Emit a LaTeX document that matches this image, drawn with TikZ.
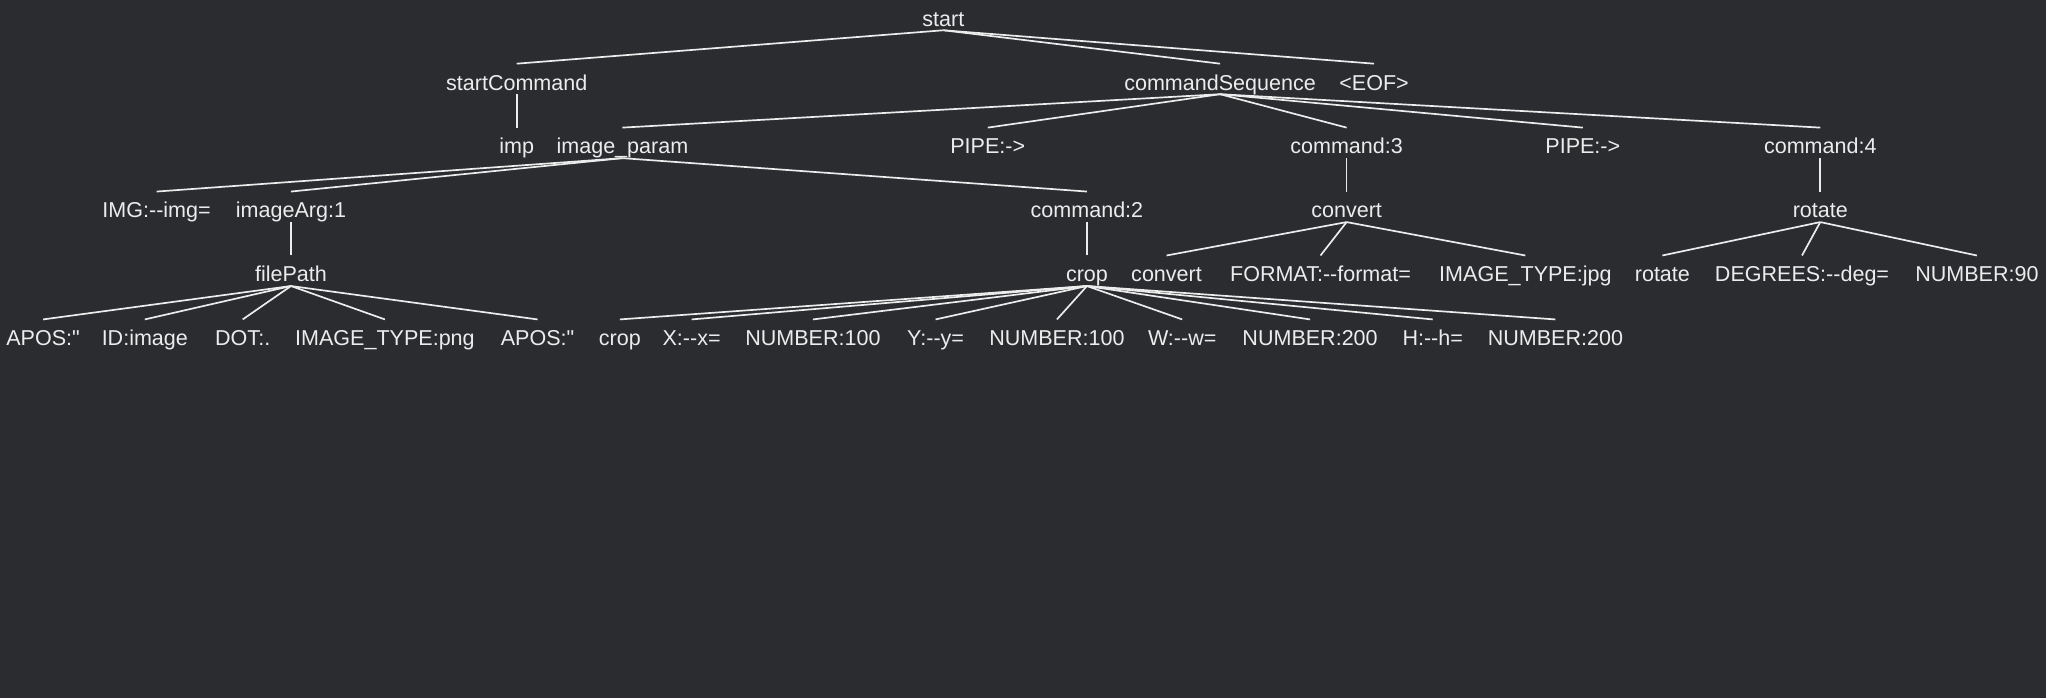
\documentclass[tikz,border=0pt]{standalone}
\usepackage{fontspec}
\setmainfont{Liberation Sans}[Ligatures=TeXOff]
\definecolor{bgdark}{HTML}{2B2C30}
\definecolor{fgline}{HTML}{ECECEC}
\tikzset{
  tok/.style={anchor=base, text=fgline, font=\fontsize{16.5}{20}\selectfont,
    text height=17pt, text depth=0pt, inner xsep=0pt, inner ysep=3pt},
  edge/.style={draw=fgline, line width=1.3pt}
}
\begin{document}
\begin{tikzpicture}[x=1pt,y=-1pt]
  \fill[bgdark] (0,0) rectangle (1568,535);
  % level 1 and 2
  \node[tok] (start) at (723,20) {start};
  \node[tok] (startCmd) at (396,69) {startCommand};
  \node[tok] (cmdSeq) at (935,69) {commandSequence};
  \node[tok] (eof) at (1053,69) {<EOF>};
  % level 3
  \node[tok] (imp) at (396,118) {imp};
  \node[tok] (imgParam) at (477,118) {image\_param};
  \node[tok] (pipeA) at (757,118) {PIPE:->};
  \node[tok] (cmdThree) at (1032,118) {command:3};
  \node[tok] (pipeB) at (1213,118) {PIPE:->};
  \node[tok] (cmdFour) at (1395,118) {command:4};
  % level 4
  \node[tok] (imgTok) at (120,167) {IMG:-{}-img=};
  \node[tok] (imgArg) at (223,167) {imageArg:1};
  \node[tok] (cmdTwo) at (833,167) {command:2};
  \node[tok] (convert) at (1032,167) {convert};
  \node[tok] (rotate) at (1395,167) {rotate};
  % level 5
  \node[tok] (filePath) at (223,216) {filePath};
  \node[tok] (crop) at (833,216) {crop};
  \node[tok] (convTok) at (894,216) {convert};
  \node[tok] (fmtTok) at (1012,216) {FORMAT:-{}-format=};
  \node[tok] (jpgTok) at (1169,216) {IMAGE\_TYPE:jpg};
  \node[tok] (rotTok) at (1274,216) {rotate};
  \node[tok] (degTok) at (1381,216) {DEGREES:-{}-deg=};
  \node[tok] (num90) at (1515,216) {NUMBER:90};
  % level 6
  \node[tok] (aposA) at (33,265) {APOS:"};
  \node[tok] (idTok) at (111,265) {ID:image};
  \node[tok] (dotTok) at (186,265) {DOT:.};
  \node[tok] (pngTok) at (295,265) {IMAGE\_TYPE:png};
  \node[tok] (aposB) at (412,265) {APOS:"};
  \node[tok] (cropTok) at (475,265) {crop};
  \node[tok] (xTok) at (530,265) {X:-{}-x=};
  \node[tok] (numX) at (623,265) {NUMBER:100};
  \node[tok] (yTok) at (717,265) {Y:-{}-y=};
  \node[tok] (numY) at (810,265) {NUMBER:100};
  \node[tok] (wTok) at (906,265) {W:-{}-w=};
  \node[tok] (numW) at (1004,265) {NUMBER:200};
  \node[tok] (hTok) at (1098,265) {H:-{}-h=};
  \node[tok] (numH) at (1192,265) {NUMBER:200};
  % edges
  \foreach \c in {startCmd,cmdSeq,eof} \draw[edge] (start.south) -- (\c.north);
  \draw[edge] (startCmd.south) -- (imp.north);
  \foreach \c in {imgParam,pipeA,cmdThree,pipeB,cmdFour} \draw[edge] (cmdSeq.south) -- (\c.north);
  \foreach \c in {imgTok,imgArg,cmdTwo} \draw[edge] (imgParam.south) -- (\c.north);
  \draw[edge] (imgArg.south) -- (filePath.north);
  \foreach \c in {aposA,idTok,dotTok,pngTok,aposB} \draw[edge] (filePath.south) -- (\c.north);
  \draw[edge] (cmdTwo.south) -- (crop.north);
  \foreach \c in {cropTok,xTok,numX,yTok,numY,wTok,numW,hTok,numH} \draw[edge] (crop.south) -- (\c.north);
  \draw[edge] (cmdThree.south) -- (convert.north);
  \foreach \c in {convTok,fmtTok,jpgTok} \draw[edge] (convert.south) -- (\c.north);
  \draw[edge] (cmdFour.south) -- (rotate.north);
  \foreach \c in {rotTok,degTok,num90} \draw[edge] (rotate.south) -- (\c.north);
\end{tikzpicture}
\end{document}
